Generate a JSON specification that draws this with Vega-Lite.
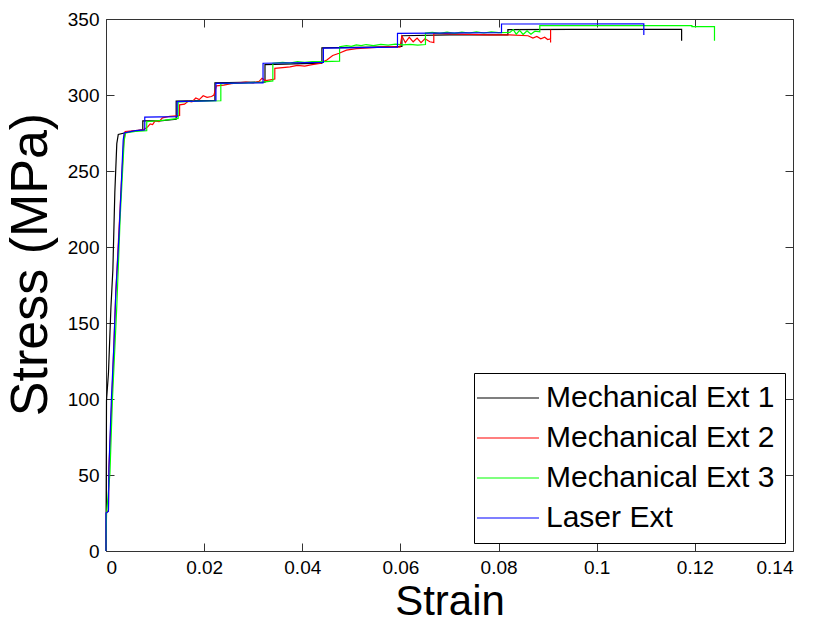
{
  "$schema": "https://vega.github.io/schema/vega-lite/v6.json",
  "width": 687,
  "height": 532,
  "autosize": "none",
  "padding": {"left": 106, "top": 19, "right": 22, "bottom": 73},
  "background": "white",
  "config": {
    "view": {"stroke": "#333333", "strokeWidth": 1},
    "font": "Liberation Sans",
    "axis": {
      "domain": false,
      "grid": false,
      "tickColor": "#333333",
      "tickSize": -8,
      "labelFont": "Liberation Sans",
      "labelFontSize": 19,
      "labelColor": "#000000",
      "labelPadding": 15,
      "titleFont": "Liberation Sans",
      "titleFontWeight": "normal",
      "titleColor": "#000000"
    },
    "legend": {
      "orient": "bottom-right",
      "offset": 8,
      "strokeColor": "#000000",
      "fillColor": "#ffffff",
      "padding": 10,
      "symbolType": "M-3,0H3",
      "symbolSize": 427,
      "symbolOffset": 9,
      "symbolStrokeWidth": 1.2,
      "labelFont": "Liberation Sans",
      "labelFontSize": 30,
      "labelColor": "#000000",
      "labelOffset": 23,
      "labelLimit": 0,
      "rowPadding": 10
    }
  },
  "data": {
    "values": [
      {"s":"Mechanical Ext 1","x":0,"y":0},
      {"s":"Mechanical Ext 1","x":0.0001,"y":99},
      {"s":"Mechanical Ext 1","x":0.0005,"y":117},
      {"s":"Mechanical Ext 1","x":0.001,"y":160},
      {"s":"Mechanical Ext 1","x":0.0014,"y":185},
      {"s":"Mechanical Ext 1","x":0.0018,"y":236},
      {"s":"Mechanical Ext 1","x":0.0022,"y":268},
      {"s":"Mechanical Ext 1","x":0.0025,"y":274},
      {"s":"Mechanical Ext 1","x":0.005,"y":276},
      {"s":"Mechanical Ext 1","x":0.0075,"y":277},
      {"s":"Mechanical Ext 1","x":0.0075,"y":283},
      {"s":"Mechanical Ext 1","x":0.011,"y":283},
      {"s":"Mechanical Ext 1","x":0.0143,"y":284},
      {"s":"Mechanical Ext 1","x":0.0143,"y":296},
      {"s":"Mechanical Ext 1","x":0.0222,"y":296.5},
      {"s":"Mechanical Ext 1","x":0.0222,"y":308},
      {"s":"Mechanical Ext 1","x":0.0324,"y":308.5},
      {"s":"Mechanical Ext 1","x":0.0324,"y":320},
      {"s":"Mechanical Ext 1","x":0.044,"y":321},
      {"s":"Mechanical Ext 1","x":0.044,"y":331},
      {"s":"Mechanical Ext 1","x":0.0545,"y":331.5},
      {"s":"Mechanical Ext 1","x":0.0603,"y":332},
      {"s":"Mechanical Ext 1","x":0.0603,"y":339},
      {"s":"Mechanical Ext 1","x":0.07,"y":339.5},
      {"s":"Mechanical Ext 1","x":0.0819,"y":339.5},
      {"s":"Mechanical Ext 1","x":0.0819,"y":343},
      {"s":"Mechanical Ext 1","x":0.095,"y":343.2},
      {"s":"Mechanical Ext 1","x":0.1173,"y":343.2},
      {"s":"Mechanical Ext 1","x":0.1173,"y":335.7},

      {"s":"Mechanical Ext 2","x":0,"y":0},
      {"s":"Mechanical Ext 2","x":0.0001,"y":25},
      {"s":"Mechanical Ext 2","x":0.0005,"y":27},
      {"s":"Mechanical Ext 2","x":0.0006,"y":55},
      {"s":"Mechanical Ext 2","x":0.0012,"y":100},
      {"s":"Mechanical Ext 2","x":0.002,"y":170},
      {"s":"Mechanical Ext 2","x":0.0031,"y":240},
      {"s":"Mechanical Ext 2","x":0.0036,"y":268},
      {"s":"Mechanical Ext 2","x":0.0039,"y":276},
      {"s":"Mechanical Ext 2","x":0.006,"y":276.5},
      {"s":"Mechanical Ext 2","x":0.0076,"y":277},
      {"s":"Mechanical Ext 2","x":0.0085,"y":279},
      {"s":"Mechanical Ext 2","x":0.009,"y":281},
      {"s":"Mechanical Ext 2","x":0.0095,"y":280.5},
      {"s":"Mechanical Ext 2","x":0.01,"y":283},
      {"s":"Mechanical Ext 2","x":0.0108,"y":282.5},
      {"s":"Mechanical Ext 2","x":0.0115,"y":285},
      {"s":"Mechanical Ext 2","x":0.0122,"y":285.5},
      {"s":"Mechanical Ext 2","x":0.013,"y":286},
      {"s":"Mechanical Ext 2","x":0.015,"y":286.5},
      {"s":"Mechanical Ext 2","x":0.015,"y":293.5},
      {"s":"Mechanical Ext 2","x":0.016,"y":294},
      {"s":"Mechanical Ext 2","x":0.0168,"y":296},
      {"s":"Mechanical Ext 2","x":0.0175,"y":295.5},
      {"s":"Mechanical Ext 2","x":0.0183,"y":298},
      {"s":"Mechanical Ext 2","x":0.019,"y":297},
      {"s":"Mechanical Ext 2","x":0.0198,"y":299.5},
      {"s":"Mechanical Ext 2","x":0.0206,"y":298.5},
      {"s":"Mechanical Ext 2","x":0.0215,"y":299},
      {"s":"Mechanical Ext 2","x":0.022,"y":300},
      {"s":"Mechanical Ext 2","x":0.0225,"y":306},
      {"s":"Mechanical Ext 2","x":0.024,"y":306.5},
      {"s":"Mechanical Ext 2","x":0.0255,"y":307.5},
      {"s":"Mechanical Ext 2","x":0.027,"y":308},
      {"s":"Mechanical Ext 2","x":0.0285,"y":308.5},
      {"s":"Mechanical Ext 2","x":0.03,"y":308},
      {"s":"Mechanical Ext 2","x":0.0312,"y":309},
      {"s":"Mechanical Ext 2","x":0.0318,"y":311},
      {"s":"Mechanical Ext 2","x":0.0325,"y":309.5},
      {"s":"Mechanical Ext 2","x":0.0335,"y":310},
      {"s":"Mechanical Ext 2","x":0.0344,"y":310.5},
      {"s":"Mechanical Ext 2","x":0.0344,"y":317.5},
      {"s":"Mechanical Ext 2","x":0.036,"y":318},
      {"s":"Mechanical Ext 2","x":0.0375,"y":318.5},
      {"s":"Mechanical Ext 2","x":0.039,"y":319.5},
      {"s":"Mechanical Ext 2","x":0.0405,"y":319},
      {"s":"Mechanical Ext 2","x":0.042,"y":320},
      {"s":"Mechanical Ext 2","x":0.0436,"y":320.8},
      {"s":"Mechanical Ext 2","x":0.045,"y":323},
      {"s":"Mechanical Ext 2","x":0.0462,"y":326},
      {"s":"Mechanical Ext 2","x":0.0475,"y":327.5},
      {"s":"Mechanical Ext 2","x":0.049,"y":329.5},
      {"s":"Mechanical Ext 2","x":0.051,"y":330.5},
      {"s":"Mechanical Ext 2","x":0.0535,"y":331},
      {"s":"Mechanical Ext 2","x":0.056,"y":331.5},
      {"s":"Mechanical Ext 2","x":0.058,"y":331.8},
      {"s":"Mechanical Ext 2","x":0.0599,"y":331.5},
      {"s":"Mechanical Ext 2","x":0.0603,"y":338.8},
      {"s":"Mechanical Ext 2","x":0.061,"y":334.5},
      {"s":"Mechanical Ext 2","x":0.0618,"y":338},
      {"s":"Mechanical Ext 2","x":0.0626,"y":335},
      {"s":"Mechanical Ext 2","x":0.0634,"y":337.5},
      {"s":"Mechanical Ext 2","x":0.0642,"y":334.5},
      {"s":"Mechanical Ext 2","x":0.065,"y":337},
      {"s":"Mechanical Ext 2","x":0.066,"y":335},
      {"s":"Mechanical Ext 2","x":0.0668,"y":334.5},
      {"s":"Mechanical Ext 2","x":0.0668,"y":340.5},
      {"s":"Mechanical Ext 2","x":0.072,"y":340},
      {"s":"Mechanical Ext 2","x":0.078,"y":339.5},
      {"s":"Mechanical Ext 2","x":0.0822,"y":339.5},
      {"s":"Mechanical Ext 2","x":0.086,"y":339},
      {"s":"Mechanical Ext 2","x":0.087,"y":337.5},
      {"s":"Mechanical Ext 2","x":0.0878,"y":338.5},
      {"s":"Mechanical Ext 2","x":0.0886,"y":337},
      {"s":"Mechanical Ext 2","x":0.0894,"y":338},
      {"s":"Mechanical Ext 2","x":0.09,"y":336.5},
      {"s":"Mechanical Ext 2","x":0.0906,"y":337},
      {"s":"Mechanical Ext 2","x":0.0906,"y":343},
      {"s":"Mechanical Ext 2","x":0.0906,"y":334.5},

      {"s":"Mechanical Ext 3","x":0,"y":0},
      {"s":"Mechanical Ext 3","x":0.0001,"y":24},
      {"s":"Mechanical Ext 3","x":0.0008,"y":51},
      {"s":"Mechanical Ext 3","x":0.0013,"y":99},
      {"s":"Mechanical Ext 3","x":0.0022,"y":161},
      {"s":"Mechanical Ext 3","x":0.0029,"y":220},
      {"s":"Mechanical Ext 3","x":0.0037,"y":270},
      {"s":"Mechanical Ext 3","x":0.004,"y":275},
      {"s":"Mechanical Ext 3","x":0.006,"y":276},
      {"s":"Mechanical Ext 3","x":0.0083,"y":276.5},
      {"s":"Mechanical Ext 3","x":0.0083,"y":282.4},
      {"s":"Mechanical Ext 3","x":0.012,"y":283.5},
      {"s":"Mechanical Ext 3","x":0.0147,"y":284.6},
      {"s":"Mechanical Ext 3","x":0.0147,"y":295.5},
      {"s":"Mechanical Ext 3","x":0.019,"y":296},
      {"s":"Mechanical Ext 3","x":0.0234,"y":296.2},
      {"s":"Mechanical Ext 3","x":0.0234,"y":307.5},
      {"s":"Mechanical Ext 3","x":0.028,"y":307.8},
      {"s":"Mechanical Ext 3","x":0.032,"y":308.5},
      {"s":"Mechanical Ext 3","x":0.034,"y":309.3},
      {"s":"Mechanical Ext 3","x":0.034,"y":320.9},
      {"s":"Mechanical Ext 3","x":0.036,"y":321.5},
      {"s":"Mechanical Ext 3","x":0.0375,"y":321},
      {"s":"Mechanical Ext 3","x":0.039,"y":322},
      {"s":"Mechanical Ext 3","x":0.0405,"y":321.5},
      {"s":"Mechanical Ext 3","x":0.042,"y":322},
      {"s":"Mechanical Ext 3","x":0.0443,"y":322},
      {"s":"Mechanical Ext 3","x":0.0476,"y":322.3},
      {"s":"Mechanical Ext 3","x":0.0476,"y":331.8},
      {"s":"Mechanical Ext 3","x":0.049,"y":332.5},
      {"s":"Mechanical Ext 3","x":0.05,"y":332},
      {"s":"Mechanical Ext 3","x":0.051,"y":333},
      {"s":"Mechanical Ext 3","x":0.052,"y":332.5},
      {"s":"Mechanical Ext 3","x":0.053,"y":333.2},
      {"s":"Mechanical Ext 3","x":0.0545,"y":332.5},
      {"s":"Mechanical Ext 3","x":0.056,"y":333.3},
      {"s":"Mechanical Ext 3","x":0.0575,"y":332.8},
      {"s":"Mechanical Ext 3","x":0.059,"y":333.5},
      {"s":"Mechanical Ext 3","x":0.0605,"y":333},
      {"s":"Mechanical Ext 3","x":0.062,"y":333.3},
      {"s":"Mechanical Ext 3","x":0.0635,"y":332.8},
      {"s":"Mechanical Ext 3","x":0.0651,"y":333.2},
      {"s":"Mechanical Ext 3","x":0.0651,"y":340.7},
      {"s":"Mechanical Ext 3","x":0.0665,"y":341.2},
      {"s":"Mechanical Ext 3","x":0.068,"y":340.5},
      {"s":"Mechanical Ext 3","x":0.0695,"y":341.3},
      {"s":"Mechanical Ext 3","x":0.071,"y":340.6},
      {"s":"Mechanical Ext 3","x":0.0725,"y":341.4},
      {"s":"Mechanical Ext 3","x":0.074,"y":340.8},
      {"s":"Mechanical Ext 3","x":0.0755,"y":341.5},
      {"s":"Mechanical Ext 3","x":0.077,"y":340.8},
      {"s":"Mechanical Ext 3","x":0.0785,"y":341.5},
      {"s":"Mechanical Ext 3","x":0.08,"y":341},
      {"s":"Mechanical Ext 3","x":0.0823,"y":341.2},
      {"s":"Mechanical Ext 3","x":0.083,"y":343},
      {"s":"Mechanical Ext 3","x":0.0836,"y":340},
      {"s":"Mechanical Ext 3","x":0.0843,"y":342.5},
      {"s":"Mechanical Ext 3","x":0.085,"y":339.8},
      {"s":"Mechanical Ext 3","x":0.0858,"y":342.3},
      {"s":"Mechanical Ext 3","x":0.0866,"y":340},
      {"s":"Mechanical Ext 3","x":0.0874,"y":342},
      {"s":"Mechanical Ext 3","x":0.0884,"y":341.5},
      {"s":"Mechanical Ext 3","x":0.0884,"y":345.6},
      {"s":"Mechanical Ext 3","x":0.1,"y":345.7},
      {"s":"Mechanical Ext 3","x":0.1194,"y":345.6},
      {"s":"Mechanical Ext 3","x":0.1194,"y":345},
      {"s":"Mechanical Ext 3","x":0.124,"y":345},
      {"s":"Mechanical Ext 3","x":0.124,"y":335.7},

      {"s":"Laser Ext","x":0,"y":0},
      {"s":"Laser Ext","x":0,"y":25},
      {"s":"Laser Ext","x":0.0005,"y":26},
      {"s":"Laser Ext","x":0.0006,"y":55},
      {"s":"Laser Ext","x":0.0011,"y":100},
      {"s":"Laser Ext","x":0.0016,"y":135},
      {"s":"Laser Ext","x":0.002,"y":170},
      {"s":"Laser Ext","x":0.0026,"y":205},
      {"s":"Laser Ext","x":0.0031,"y":240},
      {"s":"Laser Ext","x":0.0035,"y":270},
      {"s":"Laser Ext","x":0.0037,"y":275},
      {"s":"Laser Ext","x":0.006,"y":276.5},
      {"s":"Laser Ext","x":0.0079,"y":277},
      {"s":"Laser Ext","x":0.0079,"y":285.5},
      {"s":"Laser Ext","x":0.0145,"y":285.8},
      {"s":"Laser Ext","x":0.0145,"y":295.7},
      {"s":"Laser Ext","x":0.0224,"y":296.2},
      {"s":"Laser Ext","x":0.0224,"y":307.7},
      {"s":"Laser Ext","x":0.032,"y":308},
      {"s":"Laser Ext","x":0.032,"y":320.9},
      {"s":"Laser Ext","x":0.0443,"y":321.5},
      {"s":"Laser Ext","x":0.0443,"y":330.8},
      {"s":"Laser Ext","x":0.0594,"y":331.5},
      {"s":"Laser Ext","x":0.0594,"y":340.6},
      {"s":"Laser Ext","x":0.0806,"y":341},
      {"s":"Laser Ext","x":0.0806,"y":346.7},
      {"s":"Laser Ext","x":0.1096,"y":346.8},
      {"s":"Laser Ext","x":0.1096,"y":339.5}
    ]
  },
  "layer": [
    {
      "mark": {"type": "line", "strokeWidth": 1.2},
      "encoding": {
        "x": {
          "field": "x", "type": "quantitative",
          "scale": {"domain": [0, 0.14], "nice": false, "zero": false},
          "axis": {"orient": "bottom", "values": [0, 0.02, 0.04, 0.06, 0.08, 0.1, 0.12, 0.14], "format": ".2~f", "title": "Strain", "titleFontSize": 42, "titlePadding": 4}
        },
        "y": {
          "field": "y", "type": "quantitative",
          "scale": {"domain": [0, 350], "nice": false},
          "axis": {"orient": "left", "values": [0, 50, 100, 150, 200, 250, 300, 350], "title": "Stress (MPa)", "titleFontSize": 52, "titlePadding": 10, "titleY": 245}
        },
        "color": {
          "field": "s", "type": "nominal",
          "scale": {"domain": ["Mechanical Ext 1", "Mechanical Ext 2", "Mechanical Ext 3", "Laser Ext"], "range": ["#000000", "#ff0000", "#00ff00", "#0000ff"]},
          "legend": {"title": null}
        },
        "order": {"value": null}
      }
    },
    {
      "mark": {"type": "line", "opacity": 0},
      "encoding": {
        "x": {"field": "x", "type": "quantitative", "axis": {"orient": "top", "values": [0, 0.02, 0.04, 0.06, 0.08, 0.1, 0.12, 0.14], "labels": false, "title": null}},
        "y": {"field": "y", "type": "quantitative", "axis": {"orient": "right", "values": [0, 50, 100, 150, 200, 250, 300, 350], "labels": false, "title": null}},
        "detail": {"field": "s"},
        "order": {"value": null}
      }
    }
  ],
  "resolve": {"axis": {"x": "independent", "y": "independent"}}
}
